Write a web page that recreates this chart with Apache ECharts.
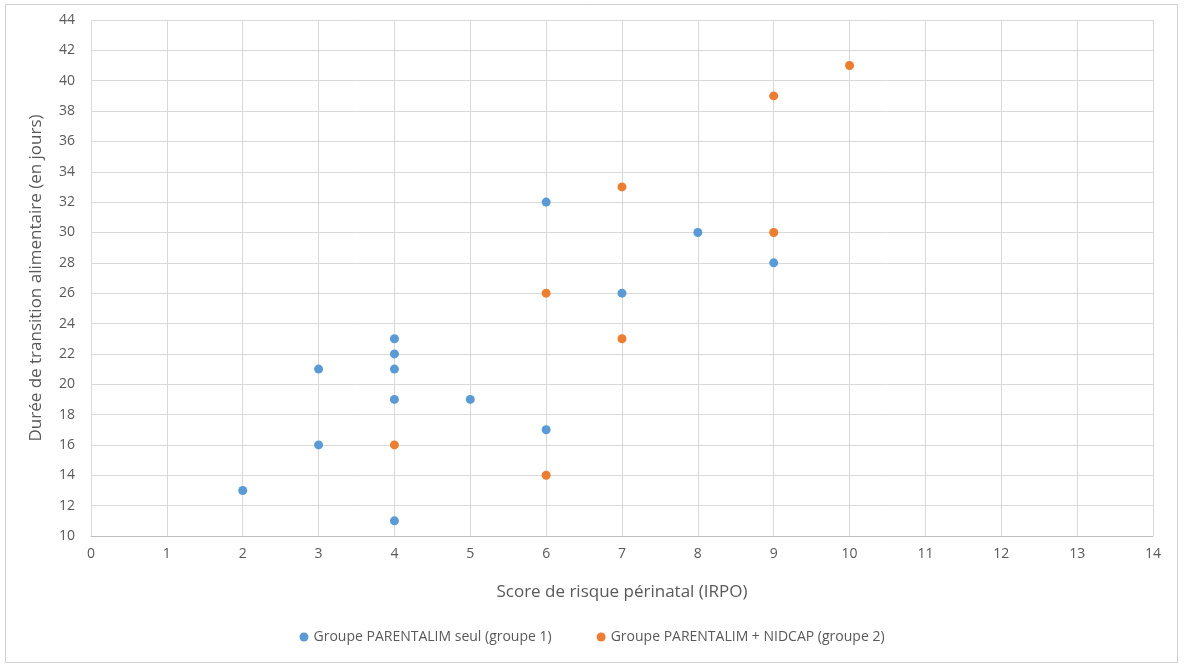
<!DOCTYPE html>
<html><head><meta charset="utf-8">
<script src="https://cdn.jsdelivr.net/npm/echarts@6/dist/echarts.min.js"></script>
<style>html,body{margin:0;padding:0;background:#fff}#c{width:1184px;height:666px}</style>
</head><body><div id="c"></div>
<script>
const seriesNames = ['Groupe PARENTALIM seul (groupe 1)', 'Groupe PARENTALIM + NIDCAP (groupe 2)'];
const group1X = [2, 3, 3, 4, 4, 4, 4, 4, 5, 6, 6, 7, 8, 9];
const group1Y = [13, 16, 21, 11, 19, 21, 22, 23, 19, 17, 32, 26, 30, 28];
const group2X = [4, 6, 6, 7, 7, 9, 9, 10];
const group2Y = [16, 14, 26, 23, 33, 30, 39, 41];
const xTitle = 'Score de risque périnatal (IRPO)';
const yTitle = 'Durée de transition alimentaire (en jours)';

const font = '"Open Sans", "Liberation Sans", sans-serif';
const chart = echarts.init(document.getElementById('c'));
chart.setOption({
  animation: false,
  textStyle: { fontFamily: font },
  graphic: [{ type: 'rect', shape: { x: 5.5, y: 4.5, width: 1172, height: 658 },
    style: { fill: 'none', stroke: '#d0d0d0', lineWidth: 1 } }],
  grid: { left: 91, right: 31, top: 20, bottom: 130 },
  xAxis: {
    type: 'value', min: 0, max: 14, interval: 1,
    name: xTitle, nameLocation: 'middle', nameGap: 48,
    nameTextStyle: { color: '#595959', fontSize: 17, fontFamily: font },
    axisLine: { show: true, lineStyle: { color: '#bfbfbf' } },
    axisTick: { show: false },
    axisLabel: { color: '#595959', fontSize: 14, margin: 11 },
    splitLine: { show: true, lineStyle: { color: '#d9d9d9' } }
  },
  yAxis: {
    type: 'value', min: 10, max: 44, interval: 2,
    name: yTitle, nameLocation: 'middle', nameGap: 46,
    nameTextStyle: { color: '#595959', fontSize: 17, fontFamily: font },
    axisLine: { show: false }, axisTick: { show: false },
    axisLabel: { color: '#595959', fontSize: 14, margin: 16 },
    splitLine: { show: true, lineStyle: { color: '#d9d9d9' } }
  },
  legend: {
    bottom: 17, left: 'center', itemGap: 45, itemWidth: 9, itemHeight: 9,
    icon: 'circle',
    textStyle: { color: '#595959', fontSize: 14 },
    data: seriesNames
  },
  series: [
    { name: seriesNames[0], type: 'scatter', symbolSize: 9,
      itemStyle: { color: '#5B9BD5', opacity: 1 },
      data: group1X.map((x, i) => [x, group1Y[i]]) },
    { name: seriesNames[1], type: 'scatter', symbolSize: 9,
      itemStyle: { color: '#ED7D31', opacity: 1 },
      data: group2X.map((x, i) => [x, group2Y[i]]) }
  ]
});
</script></body></html>
